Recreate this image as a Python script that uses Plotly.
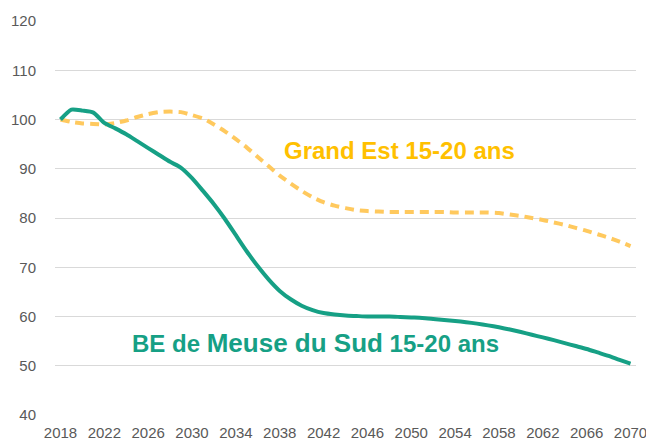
import plotly.graph_objects as go

years = list(range(2018, 2071))

meuse_sud = [100, 102, 101.8, 101.4, 99.3, 98.2, 97.0, 95.6, 94.2, 92.8,
             91.4, 90.2, 88.1, 85.5, 82.8, 79.8, 76.5, 73.2, 70.2, 67.5,
             65.2, 63.5, 62.2, 61.3, 60.7, 60.4, 60.2, 60.1, 60.0, 60.0,
             60.0, 59.9, 59.8, 59.7, 59.5, 59.3, 59.1, 58.85, 58.55, 58.2,
             57.8, 57.35, 56.85, 56.3, 55.75, 55.2, 54.6, 54.0, 53.4, 52.7,
             52.0, 51.2, 50.45]

grand_est = [100, 99.5, 99.2, 99.1, 99.0, 99.3, 99.8, 100.5, 101.1, 101.5,
             101.6, 101.5, 100.9, 100.2, 99.0, 97.6, 96.0, 94.3, 92.4, 90.5,
             88.6, 87.0, 85.5, 84.2, 83.2, 82.5, 82.0, 81.6, 81.4, 81.3,
             81.2, 81.2, 81.2, 81.2, 81.2, 81.2, 81.1, 81.1, 81.1, 81.1,
             81.0, 80.7, 80.4, 80.0, 79.6, 79.1, 78.6, 78.0, 77.4, 76.7,
             76.0, 75.2, 74.3]

x_ticks = list(range(2018, 2071, 4))
y_ticks = list(range(40, 121, 10))

GREEN = "#16A085"
YELLOW_LINE = "#FFC95E"
YELLOW_TEXT = "#FFC000"
FONT = "Liberation Sans, Arial"

fig = go.Figure()
fig.add_trace(go.Scatter(x=years, y=grand_est, mode="lines",
                         line=dict(color=YELLOW_LINE, width=4, dash="9px,6px", shape="spline", smoothing=0.6),
                         hoverinfo="skip", showlegend=False))
fig.add_trace(go.Scatter(x=years, y=meuse_sud, mode="lines",
                         line=dict(color=GREEN, width=4, shape="spline", smoothing=0.6),
                         hoverinfo="skip", showlegend=False))

fig.add_annotation(x=2048.9, y=93.8, xref="x", yref="y", showarrow=False,
                   text="<b>Grand Est 15-20 ans</b>",
                   font=dict(family=FONT, size=24, color=YELLOW_TEXT))
fig.add_annotation(x=2041.3, y=54.7, xref="x", yref="y", showarrow=False,
                   text="<b><span style='font-size:24px'>BE de </span>Meuse du Sud<span style='font-size:24px'> 15-20 ans</span></b>",
                   font=dict(family=FONT, size=26, color=GREEN))

fig.update_layout(
    width=646, height=439,
    margin=dict(l=55, r=10, t=21, b=24, autoexpand=False),
    paper_bgcolor="white", plot_bgcolor="white",
    font=dict(family=FONT, size=15, color="#595959"),
    xaxis=dict(range=[2017.5, 2070.5], tickvals=x_ticks, ticktext=[str(v) for v in x_ticks],
               showgrid=False, zeroline=False, showline=False, ticks="", automargin=False,
               ticklabeloverflow="allow",
               tickfont=dict(size=15, color="#595959"), ticklabelstandoff=7),
    yaxis=dict(range=[40, 120], tickvals=y_ticks, showgrid=True, gridcolor="#D9D9D9",
               gridwidth=1, zeroline=False, showline=False, ticks="", automargin=False,
               tickfont=dict(size=15, color="#595959"), ticklabelstandoff=18),
)

fig.write_html("out.html",
               config={"displayModeBar": False},
               post_script="document.body.style.margin='0';"
                           "document.body.style.overflow='hidden';"
                           "document.documentElement.style.overflow='hidden';")
